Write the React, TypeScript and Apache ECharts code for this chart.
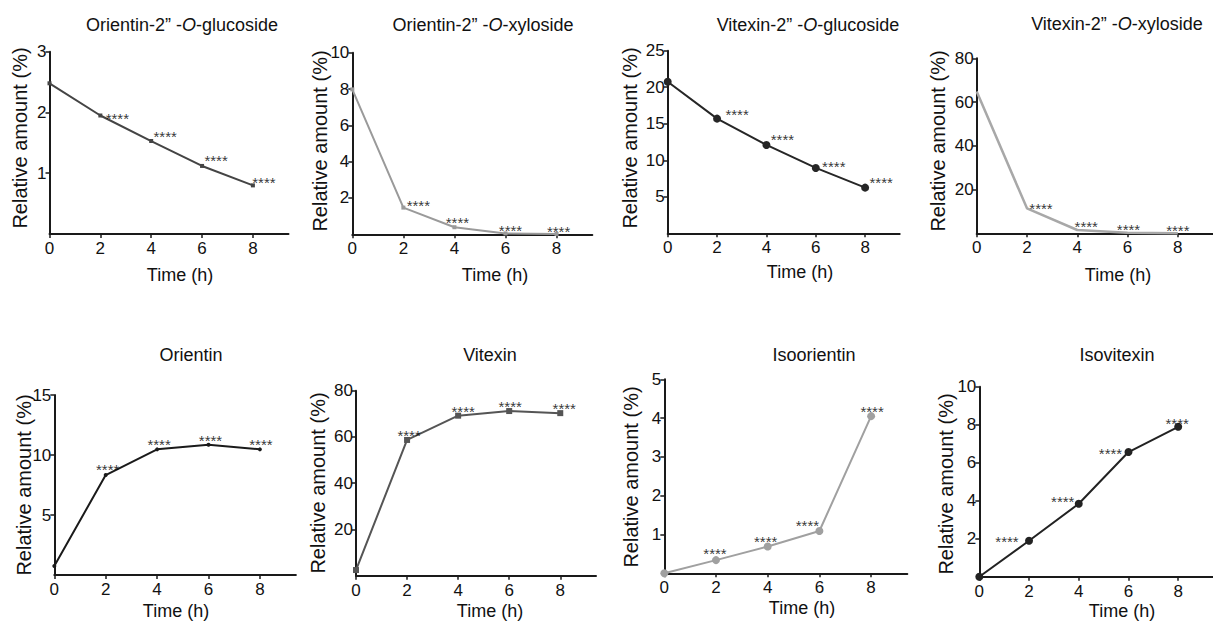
import React, { useEffect, useRef } from "react";
import * as echarts from "echarts";

// ---------- data ----------
const times = [0, 2, 4, 6, 8];
const xTickLabels = [0, 2, 4, 6, 8];
const significance = "****";

const panelTitles = [
  "Orientin-2\u201D -{i|O}-glucoside",
  "Orientin-2\u201D -{i|O}-xyloside",
  "Vitexin-2\u201D -{i|O}-glucoside",
  "Vitexin-2\u201D -{i|O}-xyloside",
  "Orientin",
  "Vitexin",
  "Isoorientin",
  "Isovitexin",
];

const orientinGlucoside = [2.48, 1.95, 1.53, 1.12, 0.8];
const orientinXyloside = [7.98, 1.47, 0.39, 0.05, 0.02];
const vitexinGlucoside = [20.75, 15.7, 12.1, 8.95, 6.25];
const vitexinXyloside = [64.8, 11.4, 1.5, 0.2, 0.05];
const orientin = [0.75, 8.33, 10.47, 10.86, 10.47];
const vitexin = [2.45, 58.7, 69.2, 71.2, 70.3];
const isoorientin = [0.0, 0.34, 0.69, 1.09, 4.05];
const isovitexin = [0.0, 1.89, 3.84, 6.56, 7.89];

const seriesValues = [
  orientinGlucoside,
  orientinXyloside,
  vitexinGlucoside,
  vitexinXyloside,
  orientin,
  vitexin,
  isoorientin,
  isovitexin,
];

const yTickLabels = [
  [1, 2, 3],
  [2, 4, 6, 8, 10],
  [5, 10, 15, 20, 25],
  [20, 40, 60, 80],
  [5, 10, 15],
  [20, 40, 60, 80],
  [1, 2, 3, 4, 5],
  [2, 4, 6, 8, 10],
];
const yMaxes = [3, 10, 25, 80, 15, 80, 5, 10];
const xMax = 9.4;

const yAxisName = "Relative amount (%)";
const xAxisName = "Time (h)";

// ---------- layout & style ----------
const FONT = "'Liberation Sans', Arial, Helvetica, sans-serif";

const grids = [
  { left: 49.5, top: 51.7, width: 239, height: 182.3 },
  { left: 352.3, top: 52.7, width: 240, height: 181.6 },
  { left: 667.7, top: 50.7, width: 232, height: 182.6 },
  { left: 976.7, top: 58.3, width: 240, height: 175 },
  { left: 54.3, top: 395, width: 241.6, height: 180 },
  { left: 356, top: 390.7, width: 240, height: 185 },
  { left: 664.3, top: 379.3, width: 243, height: 194 },
  { left: 979.3, top: 386.7, width: 243, height: 190 },
];

const titlePos = [
  [182, 25],
  [483, 25],
  [808, 25],
  [1117, 24],
  [191, 355],
  [490, 355],
  [814, 355],
  [1117, 355],
];
const yNamePos = [
  [20, 138],
  [320, 141],
  [630, 138],
  [938, 141],
  [24, 485],
  [318, 483],
  [631, 477],
  [946, 484],
];
const xNamePos = [
  [180, 275],
  [495, 275],
  [800, 272],
  [1118, 275],
  [176, 611],
  [490, 611],
  [802, 608],
  [1122, 611],
];

const lineStyles = [
  { color: "#444444", width: 2, symbol: "rect", size: 4 },
  { color: "#9a9a9a", width: 2, symbol: "rect", size: 4 },
  { color: "#262626", width: 2, symbol: "circle", size: 8 },
  { color: "#a8a8a8", width: 2.5, symbol: "none", size: 0 },
  { color: "#1a1a1a", width: 2, symbol: "circle", size: 4 },
  { color: "#555555", width: 2, symbol: "rect", size: 6 },
  { color: "#a0a0a0", width: 2, symbol: "circle", size: 8 },
  { color: "#222222", width: 2, symbol: "circle", size: 8 },
];

// glyph-centre offsets of the "****" marks relative to points at t=2,4,6,8
const starOffsets = [
  [[17, 0], [14, -8], [14, -8], [11, -6]],
  [[15, -5], [3, -8], [5, -6], [2, -5]],
  [[20, -7], [16, -8], [18, -4], [16, -8]],
  [[14, -3], [9, -7], [1, -6], [0, -6]],
  [[2, -9], [2, -8], [2, -7], [1, -8]],
  [[2, -7], [5, -7], [1, -8], [4, -8]],
  [[-1, -10], [-2, -8], [-12, -9], [1, -8]],
  [[-22, -2], [-16, -5], [-18, -2], [-1, -6]],
];
const STAR_GLYPH_SHIFT = 3;

export default function App() {
  const ref = useRef<HTMLDivElement>(null);

  useEffect(() => {
    if (!ref.current) return;
    const chart = echarts.init(ref.current, undefined, { renderer: "svg" });

    const grid: any[] = [];
    const xAxis: any[] = [];
    const yAxis: any[] = [];
    const series: any[] = [];
    const elements: any[] = [];

    seriesValues.forEach((vals, i) => {
      const g = grids[i];
      grid.push({ left: g.left, top: g.top, width: g.width, height: g.height, containLabel: false });
      xAxis.push({
        type: "value",
        gridIndex: i,
        min: 0,
        max: xMax,
        axisLine: { show: true, onZero: false, lineStyle: { color: "#1a1a1a", width: 2 } },
        axisTick: {
          show: true,
          length: 4,
          customValues: xTickLabels,
          lineStyle: { color: "#1a1a1a", width: 1.5 },
        },
        axisLabel: {
          customValues: xTickLabels,
          fontSize: 17,
          color: "#111",
          margin: 6,
          fontFamily: FONT,
        },
        splitLine: { show: false },
      });
      yAxis.push({
        type: "value",
        gridIndex: i,
        min: 0,
        max: yMaxes[i],
        axisLine: { show: true, onZero: false, lineStyle: { color: "#1a1a1a", width: 2 } },
        axisTick: {
          show: true,
          length: 4,
          customValues: yTickLabels[i],
          lineStyle: { color: "#1a1a1a", width: 1.5 },
        },
        axisLabel: {
          customValues: yTickLabels[i],
          fontSize: 17,
          color: "#111",
          margin: 3,
          fontFamily: FONT,
        },
        splitLine: { show: false },
      });

      const ls = lineStyles[i];
      series.push({
        type: "line",
        xAxisIndex: i,
        yAxisIndex: i,
        data: times.map((t, k) => [t, vals[k]]),
        symbol: ls.symbol,
        symbolSize: ls.size,
        showSymbol: ls.symbol !== "none",
        clip: false,
        lineStyle: { color: ls.color, width: ls.width },
        itemStyle: { color: ls.color },
        z: 3,
      });

      series.push({
        type: "scatter",
        xAxisIndex: i,
        yAxisIndex: i,
        symbolSize: 1,
        silent: true,
        itemStyle: { color: "rgba(0,0,0,0)" },
        z: 5,
        data: times.slice(1).map((t, k) => ({
          value: [t, vals[k + 1]],
          label: {
            show: true,
            formatter: significance,
            position: "inside",
            align: "center",
            verticalAlign: "middle",
            offset: [starOffsets[i][k][0], starOffsets[i][k][1] + STAR_GLYPH_SHIFT],
            fontSize: 15,
            color: "#000",
            fontFamily: FONT,
          },
        })),
      });

      elements.push({
        type: "text",
        x: titlePos[i][0],
        y: titlePos[i][1],
        style: {
          text: panelTitles[i],
          fill: "#111",
          fontSize: 18,
          fontFamily: FONT,
          align: "center",
          verticalAlign: "middle",
          rich: {
            i: { fontStyle: "italic", fontSize: 18, fontFamily: FONT, fill: "#111" },
          },
        },
      });
      elements.push({
        type: "text",
        x: yNamePos[i][0],
        y: yNamePos[i][1],
        rotation: Math.PI / 2,
        style: {
          text: yAxisName,
          fill: "#111",
          fontSize: 20,
          fontFamily: FONT,
          align: "center",
          verticalAlign: "middle",
        },
      });
      elements.push({
        type: "text",
        x: xNamePos[i][0],
        y: xNamePos[i][1],
        style: {
          text: xAxisName,
          fill: "#111",
          fontSize: 18,
          fontFamily: FONT,
          align: "center",
          verticalAlign: "middle",
        },
      });
    });

    chart.setOption({
      animation: false,
      backgroundColor: "#ffffff",
      grid,
      xAxis,
      yAxis,
      series,
      graphic: { elements },
    });

    return () => chart.dispose();
  }, []);

  return (
    <div
      ref={ref}
      style={{ position: "fixed", left: 0, top: 0, width: 1213, height: 621, background: "#fff" }}
    />
  );
}
